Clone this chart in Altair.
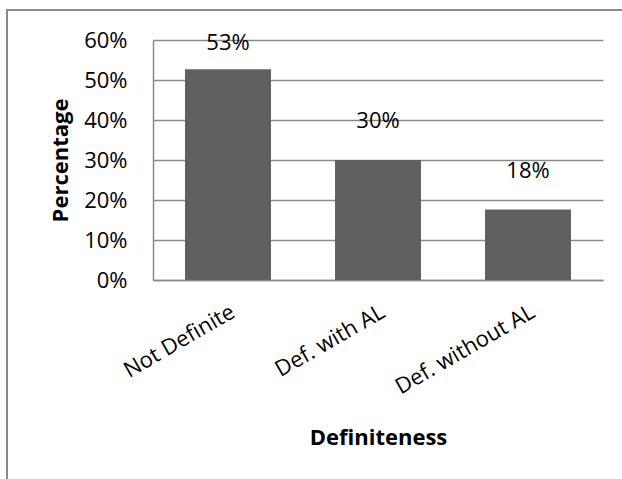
import altair as alt
import pandas as pd

# Share of noun phrases by definiteness
categories = ["Not Definite", "Def. with AL", "Def. without AL"]
shares = [0.527, 0.30, 0.176]
y_ticks = [0, 0.1, 0.2, 0.3, 0.4, 0.5, 0.6]

df = pd.DataFrame({"category": categories, "share": shares})

FONT = "Open Sans"
GREY = "#8a8a8a"
BAR = "#606060"
SIZE = 22

x_axis = alt.Axis(
    title="Definiteness",
    labelAngle=-30,
    labelAlign="right",
    labelBaseline="top",
    labelPadding=21,
    labelOverlap=False,
    labelFont=FONT,
    labelFontSize=SIZE,
    labelColor="black",
    ticks=False,
    domainColor=GREY,
    domainWidth=1.5,
    titleFont=FONT,
    titleFontSize=SIZE,
    titleFontWeight="bold",
    titleColor="black",
    titleX=225,
    titleY=164,
    titleBaseline="alphabetic",
    titleAlign="center",
)

y_axis = alt.Axis(
    title="Percentage",
    values=y_ticks,
    format=".0%",
    grid=True,
    gridColor=GREY,
    gridWidth=1.5,
    ticks=False,
    domainColor=GREY,
    domainWidth=1.5,
    labelPadding=26,
    labelOverlap=False,
    labelFont=FONT,
    labelFontSize=SIZE,
    labelColor="black",
    titleFont=FONT,
    titleFontSize=SIZE,
    titleFontWeight="bold",
    titleColor="black",
    titleAngle=-90,
    titleX=-93,
    titleY=120,
    titleAlign="center",
    titleBaseline="middle",
)

x_scale = alt.Scale(paddingInner=0.427, paddingOuter=0.2135)
y_scale = alt.Scale(domain=[0, 0.6], nice=False)

bars = alt.Chart(df).mark_bar(color=BAR).encode(
    x=alt.X("category:N", sort=categories, scale=x_scale, axis=x_axis),
    y=alt.Y("share:Q", scale=y_scale, axis=y_axis),
)

# value labels sit above each bar, held inside the top of the plot
labels = (
    alt.Chart(df)
    .transform_calculate(label_pos="min(datum.share + 0.08, 0.575)")
    .mark_text(font=FONT, fontSize=SIZE, color="black", baseline="alphabetic")
    .encode(
        x=alt.X("category:N", sort=categories, scale=x_scale, axis=x_axis),
        y=alt.Y("label_pos:Q", scale=y_scale, axis=y_axis),
        text=alt.Text("share:Q", format=".0%"),
    )
)

# outer chart frame: top and left edges only
frame_top = (
    alt.Chart(df)
    .mark_rule(stroke=GREY, strokeWidth=2)
    .encode(x=alt.value(-146), x2=alt.value(480), y=alt.value(-30))
)
frame_left = (
    alt.Chart(df)
    .mark_rule(stroke=GREY, strokeWidth=2)
    .encode(x=alt.value(-146), y=alt.value(-31), y2=alt.value(450))
)

chart = (
    alt.layer(bars, labels, frame_top, frame_left)
    .properties(
        width=450,
        height=240,
        autosize=alt.AutoSizeParams(type="none"),
        padding={"left": 153, "top": 40, "right": 19, "bottom": 199},
        background="white",
    )
    .configure_view(stroke=None)
)

chart.save("out.html", embed_options={"renderer": "svg", "actions": False})
